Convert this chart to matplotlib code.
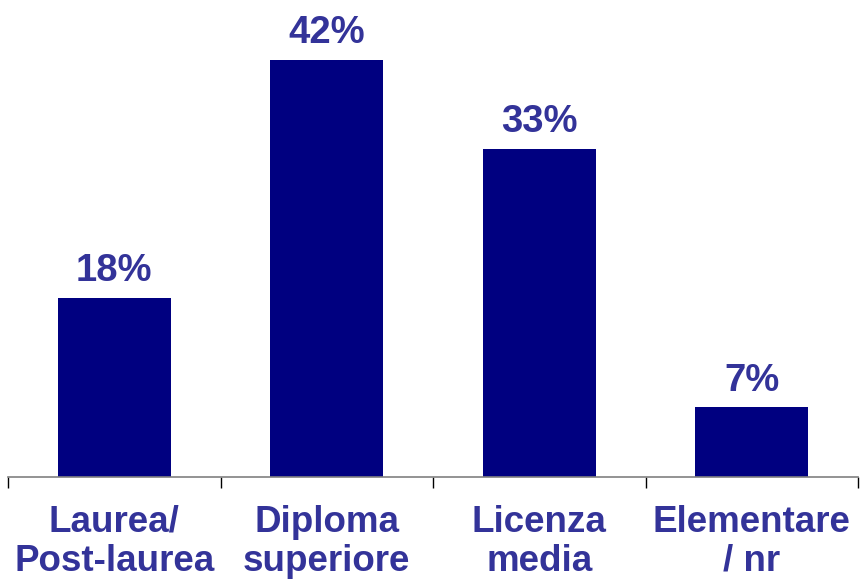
import matplotlib
matplotlib.use("Agg")
import matplotlib.pyplot as plt

categories = ["Laurea/\nPost-laurea", "Diploma\nsuperiore", "Licenza\nmedia", "Elementare\n/ nr"]
values = [18, 42, 33, 7]
value_labels = ["18%", "42%", "33%", "7%"]

plt.rcParams['font.family'] = ['Liberation Sans', 'DejaVu Sans']

fig = plt.figure(figsize=(8.6, 5.81), dpi=100)
ax = fig.add_axes([8/860, (581-477)/581, 850/860, 477/581])

x = list(range(len(categories)))
ax.bar(x, values, width=0.53, color="#000080", zorder=2)
for xi, v, lab in zip(x, values, value_labels):
    ax.text(xi, v + 1.7, lab, ha="center", va="baseline", fontsize=27.5,
            fontweight="bold", color="#333399")

ax.set_xlim(-0.5, len(categories) - 0.5)
ax.set_ylim(0, 48.0)
ax.set_yticks([])
for s in ["top", "right", "left"]:
    ax.spines[s].set_visible(False)
ax.spines["bottom"].set_color("#808080")
ax.spines["bottom"].set_linewidth(1.2)

ax.set_xticks([i - 0.5 for i in range(len(categories) + 1)], minor=False)
ax.set_xticklabels([])
ax.tick_params(axis="x", which="major", length=8, width=1, color="black", direction="out")
ax.set_xticks(x, minor=True)
ax.set_xticklabels(categories, minor=True, fontsize=26.5, fontweight="bold",
                   color="#333399", linespacing=1.15)
ax.tick_params(axis="x", which="minor", length=0, pad=20)

fig.savefig("out.png", dpi=100)
